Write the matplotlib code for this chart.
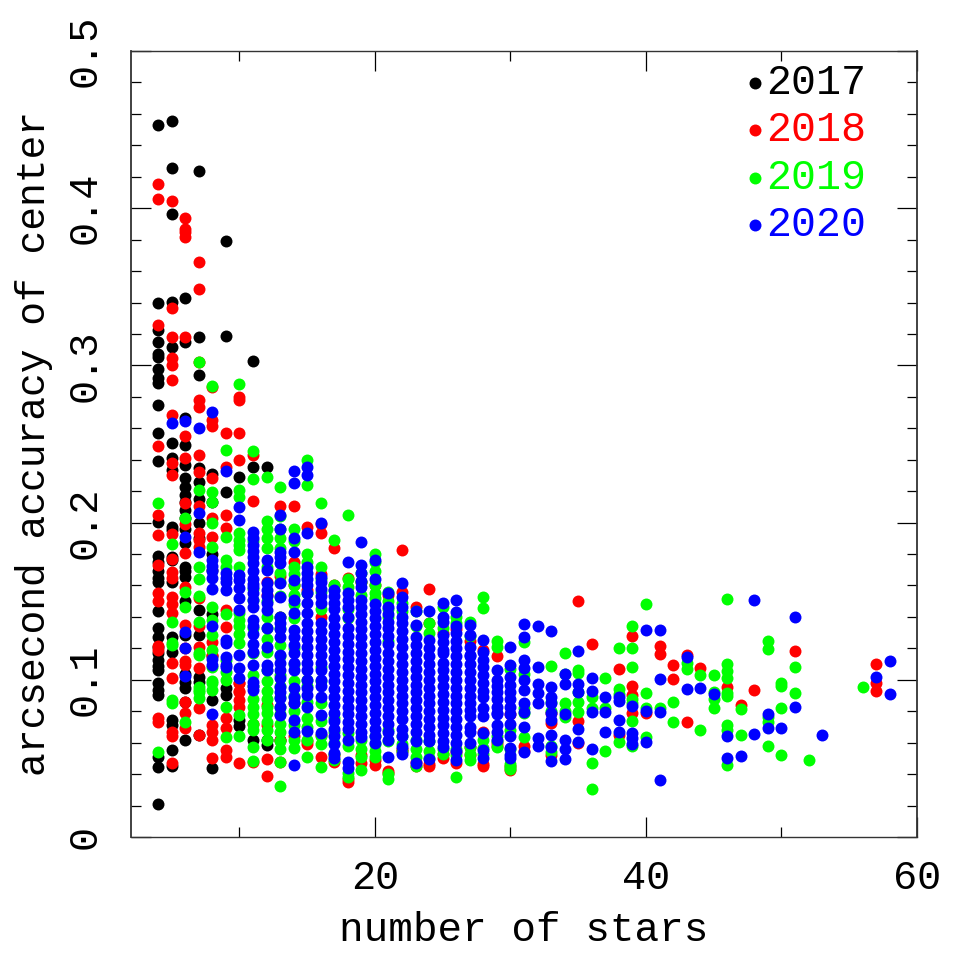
import matplotlib
matplotlib.use("Agg")
import matplotlib.pyplot as plt
from matplotlib.ticker import MultipleLocator

plt.rcParams['font.family'] = ['Liberation Mono']

years = ["2017", "2018", "2019", "2020"]
colors = ["#000000", "#ff0000", "#00ff00", "#0000ff"]

# values: number of stars -> accuracies in that column
stars_2017 = [4, 5, 6, 7, 8, 9, 10, 11, 12, 13]
acc_2017 = [
    [.453, .3395, .3225, .315, .3075, .3055, .2975, .292, .2886, .2748, .2572, .239, .2005, .1790, .1750, .1690, .1650, .1625, .1440,
     .1330, .1270, .1210, .1170, .1126, .1090, .1062, .0977, .0935, .0903, .0511, .0443, .0210],
    [.4557, .4256, .3963, .3405, .312, .2504, .2409, .2335, .1974, .1950, .1783, .1760, .1624, .1275, .1180, .0744, .0715, .0553, .0452],
    [.343, .315, .2663, .2494, .2366, .2282, .2229, .2176, .2130, .2080, .2030, .1960, .1870, .1720, .1690, .1656, .1500, .1285, .1040,
     .0988, .0950, .0861, .0617],
    [.4235, .3183, .2940, .2345, .2260, .2150, .1995, .1900, .1444, .1285, .1020, .0985, .0649],
    [.2310, .2130, .1800, .1700, .1420, .1150, .0871, .0437],
    [.379, .319, .2197, .0945, .0903],
    [.2292, .0744, .0705],
    [.303, .2352, .0620],
    [.2352, .0585, .0620],
    [.0617],
]

stars_2018 = [4, 5, 6, 7, 8, 9, 10, 11, 12, 13, 14, 15, 16, 17, 18, 19, 20, 21, 22, 23, 24, 25, 26, 27, 28, 29, 30, 31,
              33, 35, 36, 38, 39, 40, 41, 42, 43, 44, 46, 47, 48, 51, 57]
acc_2018 = [
    [.4153, .406, .3257, .2487, .2048, .1921, .173, .155, .1500, .119, .1215, .0755, .0730],
    [.4046, .3363, .3181, .305, .3003, .2908, .2684, .2377, .2300, .1927, .1770, .1688, .1650, .1529, .1480, .1423, .1105, .1010,
     .0670, .0640, .0469],
    [.3935, .3865, .3850, .3818, .3181, .2551, .2409, .2127, .1990, .1804, .1593, .1349, .1094, .1200, .1120, .0787, .0691, .0861],
    [.3660, .3484, .3021, .2780, .2737, .2430, .2324, .2106, .1932, .1890, .1847, .1520, .1345, .1211, .1073, .0818, .0649],
    [.2865, .2653, .2614, .2286, .2027, .1911, .1158, .1240, .0712, .0670, .0617, .0500],
    [.2568, .2355, .2048, .1964, .1444, .1338, .0755, .0553, .0510, .0691],
    [.2801, .278, .2568, .2398, .0978, .0930, .0872, .0977, .0920, .0829, .0473],
    [.2430, .214, .0720, .0479],
    [.1620, .1540, .0840, .0710, .0494, .0390],
    [.2106, .1660, .1400, .0615, .0480],
    [.2106, .1750, .1600, .0850, .0640],
    [.1974, .1570, .0590, .0610],
    [.1932, .1990, .1670, .1400, .0650, .0511],
    [.1841, .1600, .0520, .0480],
    [.1650, .0352, .0370],
    [.1620, .0470, .0520],
    [.1600, .0458, .0490],
    [.1540, .0405, .0420],
    [.1826, .1560, .0560, .0545],
    [.1460, .0452, .0480],
    [.1576, .1360, .0465, .0450],
    [.1295, .0500, .0530],
    [.1320, .0540, .0470],
    [.1250, .0520, .0570],
    [.1189, .0670, .0465, .0450],
    [.1150, .0579, .0600],
    [.0426, .0450, .0780],
    [.0549, .0580],
    [.0727, .0787, .0520],
    [.1501, .0738, .0596],
    [.1230],
    [.1066, .0649],
    [.1276, .0960, .0903, .0787],
    [.0787],
    [.1215, .1164],
    [.1094, .1003],
    [.1158, .0729],
    [.1073],
    [.0956],
    [.0840],
    [.0937],
    [.1185],
    [.1098, .0977, .0931],
]

stars_2019 = [4, 5, 6, 7, 8, 9, 10, 11, 12, 13, 14, 15, 16, 17, 18, 19, 20, 21, 22, 23, 24, 25, 26, 27, 28, 29, 30, 31,
              33, 34, 35, 36, 37, 38, 39, 40, 41, 42, 43, 44, 45, 46, 47, 49, 50, 51, 52, 56]
acc_2019 = [
    [.2123, .0543],
    [.1864, .1370, .1232, .0872, .1221, .0850],
    [.2027, .1561, .1465, .0734],
    [.3020, .2207, .1720, .1639, .1533, .1370, .1158, .0957, .0920, .1168, .0935, .0882],
    [.287, .2197, .2133, .1995, .1847, .1465, .1381, .1285, .1080, .0978, .1190, .0935, .0990],
    [.2462, .1911, .1762, .1720, .1417, .1126, .1000, .1050, .0829, .0638],
    [.288, .2207, .2165, .1932, .1890, .1860, .1826, .1720, .1423, .1380, .1340, .1290, .1232, .0776, .0642],
    [.2457, .2275, .1880, .1580, .1510, .1330, .1170, .1030, .0960, .0880, .0830, .0780, .0720, .068, .0570, .0486],
    [.2292, .2010, .1960, .1900, .1840, .1720, .1500, .1400, .1330, .1260, .1180, .1060, .0990, .0930, .0880, .0830, .0790,
     .0730, .0680, .0620],
    [.2229, .2040, .1960, .1900, .1840, .1680, .1620, .1530, .1400, .1330, .1220, .1150, .1030, .0960, .0890, .0830, .0780,
     .0720, .0670, .0610, .0560, .0479, .0324],
    [.1960, .1880, .1720, .1670, .1600, .1540, .1480, .1390, .1200, .1100, .0990, .0900, .0800, .0710, .0620, .0564],
    [.2398, .2239, .1800, .1750, .1550, .1000, .0960, .0860, .0760, .0700, .0620, .0511],
    [.2127, .1720, .1640, .1560, .1450, .1080, .0990, .0850, .0740, .0640, .0590, .0443],
    [.1889, .1600, .1570, .0760, .0670, .0600, .0530, .0490],
    [.2048, .1640, .1590, .1450, .1390, .0660, .0580, .0384, .0410],
    [.1680, .1620, .1540, .0620, .0560, .0510, .0426],
    [.1800, .1750, .1690, .1600, .1550, .1520, .0640, .0590, .0511, .0550],
    [.1560, .1500, .1450, .1400, .1250, .0680, .0610, .0369, .0400],
    [.1490, .1440, .0640, .0590, .0550],
    [.1440, .1340, .0620, .0560, .0510, .0452],
    [.1300, .1360, .0610, .0550, .0500],
    [.1330, .1460, .0560, .0530],
    [.1363, .1400, .0560, .0380, .0520],
    [.1370, .1280, .0575, .0490, .0530],
    [.1529, .1454, .0564, .0530, .0620],
    [.1249, .1210, .0610, .0640, .0570],
    [.1070, .0680, .0447, .0465, .0430, .0560],
    [.1242, .1040, .0820, .0790, .0638],
    [.1088, .0860, .0800, .0543, .0580],
    [.1170, .1040, .0850, .0765, .0800],
    [.1062, .1041, .0920, .0860, .0797],
    [.0818, .0473, .0303, .0890],
    [.1013, .0823, .0547],
    [.1202, .0939, .0910, .0602],
    [.1342, .1204, .1081, .0880, .0850, .0738, .0581],
    [.1480, .0916, .0823, .0638],
    [.0818],
    [.0857, .0729],
    [.1105, .1066],
    [.1033, .0681],
    [.1033, .0924, .0880, .0818],
    [.1516, .1100, .1058, .1009, .0914, .0900, .0712, .0681, .0458],
    [.0814, .0649],
    [.1249, .1198, .0765, .0734, .0579],
    [.0977, .0960, .0823, .0522],
    [.1083, .0914],
    [.0490],
    [.0956],
]

stars_2020 = [5, 6, 7, 8, 9, 10, 11, 12, 13, 14, 15, 16, 17, 18, 19, 20, 21, 22, 23, 24, 25, 26, 27, 28, 29, 30, 31, 32,
              33, 34, 35, 36, 37, 38, 39, 40, 41, 43, 44, 45, 46, 47, 48, 49, 50, 51, 53, 57, 58]
acc_2020 = [
    [.2631],
    [.2648, .1906, .1306, .1200, .1025],
    [.26, .2059, .1811],
    [.2706, .1760, .1725, .1690, .1650, .1575, .1345, .1130, .1095, .0785],
    [.2330, .1680, .1650, .1620, .1570, .1253, .1232, .1147, .1095, .1083],
    [.2101, .2017, .1667, .1635, .1582, .1518, .1444, .1158, .1073, .1010],
    [.1942, .1900, .1860, .1820, .1780, .1740, .1690, .1640, .1610, .1593, .1550, .1510, .1465, .1380, .1340, .1290, .1230,
     .1179, .1095, .0988, .0960, .0935],
    [.1762, .1699, .1614, .1570, .1530, .1490, .1444, .1328, .1211, .1095, .1062],
    [.2048, .1960, .1815, .1780, .1740, .1614, .1529, .1402, .1360, .1320, .1274, .1158, .1110, .1063, .1010, .0957,
     .0924, .0882, .0829, .0776],
    [.233, .225, .19, .1811, .1635, .1508, .1423, .1317, .1270, .1220, .1170, .1110, .1063, .0946, .0893, .0850, .0744,
     .0670, .0458],
    [.2352, .2303, .1932, .1720, .1680, .1640, .1600, .1550, .1487, .1423, .1359, .1310, .1260, .1210, .1160, .1110, .1060,
     .1000, .0950, .0903, .0829, .0676],
    [.1995, .1656, .1620, .1575, .1530, .1487, .1360, .1310, .1260, .1210, .1160, .1110, .1060, .1000, .0960, .0893, .0776, .0659],
    [.1571, .1530, .1490, .1450, .1390, .1340, .1290, .1240, .1190, .1140, .1090, .1040, .0990, .0940, .0890, .0840,
     .0790, .0740, .0690, .0640, .0590, .0532, .0500],
    [.1752, .1550, .1510, .1465, .1402, .1330, .1280, .1230, .1180, .1130, .1080, .1030, .0980, .0930, .0880, .0830,
     .0780, .0730, .0690, .0617, .0479, .0437],
    [.1875, .1730, .1680, .1630, .1590, .1510, .1465, .1420, .1370, .1320, .1270, .1220, .1170, .1120, .1070, .1020,
     .0970, .0920, .0870, .0820, .0770, .0720, .0670, .0638],
    [.1762, .1640, .1480, .1440, .1390, .1340, .1290, .1240, .1190, .1140, .1090, .1040, .0990, .0940, .0890, .0840,
     .0790, .0740, .0690, .0640, .0596],
    [.1550, .1465, .1420, .1370, .1330, .1280, .1230, .1170, .1120, .1070, .1020, .0970, .0920, .0870, .0820, .0770, .0720, .0670,
     .0617, .0507],
    [.1618, .1529, .1465, .1402, .1360, .1310, .1260, .1210, .1150, .1100, .1050, .1000, .0950, .0900, .0850, .0800,
     .0750, .0690, .0640, .0575, .0528],
    [.1438, .1349, .1270, .1220, .1170, .1120, .1070, .1020, .0970, .0920, .0870, .0820, .0770, .0720, .0670, .0610, .0473],
    [.144, .1254, .1200, .1150, .1100, .1050, .1000, .0950, .0900, .0850, .0800, .0750, .0700, .0650, .0610, .0494],
    [.1487, .1401, .1370, .1285, .1240, .1189, .1168, .1110, .1060, .1010, .0960, .0910, .0860, .0810, .0760, .0710,
     .0660, .0610, .0575],
    [.1510, .1433, .1340, .1300, .1250, .1200, .1150, .1100, .1050, .1000, .0950, .0900, .0850, .0800, .0750, .0700,
     .0650, .0600, .0545, .0490],
    [.1348, .1285, .1210, .1160, .1150, .1100, .1050, .1000, .0950, .0900, .0850, .0810, .0770, .0700, .0670, .0596],
    [.1253, .1180, .1125, .1080, .1030, .0980, .0930, .0890, .0820, .0770, .0554, .0500, .0660],
    [.1062, .1000, .0960, .0920, .0880, .0830, .0790, .0780, .0710, .0670, .0617],
    [.1206, .1094, .1020, .0970, .0920, .0880, .0830, .0780, .0720, .0640, .0565, .0520, .0500],
    [.1355, .1274, .1126, .1073, .1000, .0935, .0850, .0797, .0702, .0540],
    [.1342, .1079, .0973, .0914, .0850, .0630, .0580],
    [.1312, .0956, .0893, .0850, .0787, .0744, .0649, .0575, .0483],
    [.1037, .0973, .0782, .0617, .0560, .0494],
    [.1183, .0973, .0924, .0687, .0606],
    [.1009, .0929, .0793, .0560],
    [.0893, .0793, .0666],
    [.0893, .0867, .0744, .0666],
    [.0833, .0660, .0628, .0592],
    [.1314, .0804, .0606],
    [.1314, .1005, .0797, .0363],
    [.1147, .0941],
    [.0950],
    [.0907],
    [.0645, .0503],
    [.0517],
    [.1507, .0657],
    [.0782, .0691],
    [.0691],
    [.1397, .0827],
    [.0647],
    [.1018],
    [.1119, .0910],
]

all_stars = [stars_2017, stars_2018, stars_2019, stars_2020]
all_acc = [acc_2017, acc_2018, acc_2019, acc_2020]

fig = plt.figure(figsize=(9.62, 9.68), dpi=100)
ax = fig.add_axes([131/962, 1-837/968, 786/962, 786/968])

handles = []
for year, color, stars, acc in zip(years, colors, all_stars, all_acc):
    xs, ys = [], []
    for n, col in zip(stars, acc):
        xs += [n] * len(col)
        ys += col
    handles.append(ax.scatter(xs, ys, s=74, color=color, linewidths=0, label=year))

ax.set_xlim(2, 60)
ax.set_ylim(0, 0.5)
ax.xaxis.set_major_locator(MultipleLocator(20))
ax.xaxis.set_minor_locator(MultipleLocator(10))
ax.yaxis.set_major_locator(MultipleLocator(0.1))
ax.yaxis.set_minor_locator(MultipleLocator(0.02))
ax.set_yticks([0, .1, .2, .3, .4, .5])
ax.set_yticklabels(["0", "0.1", "0.2", "0.3", "0.4", "0.5"], rotation=90, va="center", fontsize=29)
ax.tick_params(which="major", direction="in", top=True, right=True, length=14.4, width=0.9, labelsize=29, pad=16)
ax.tick_params(which="minor", direction="in", top=True, right=True, length=7.2, width=0.9)
ax.tick_params(axis="y", which="major", pad=20)

for side in ["left", "right"]:
    ax.spines[side].set_linewidth(1.3)
    ax.spines[side].set_color("#333333")
for side in ["top", "bottom"]:
    ax.spines[side].set_linewidth(1.0)
    ax.spines[side].set_color("#333333")

ax.set_xlabel("number of stars", fontsize=29.5, labelpad=10)
ax.set_ylabel("arcsecond accuracy of center", fontsize=28.5, labelpad=9)

ax.legend(handles=handles, loc="upper right", bbox_to_anchor=(0.935, 0.985), frameon=False, fontsize=30,
          labelcolor=colors, handletextpad=-0.74, labelspacing=0.18, borderaxespad=0, borderpad=0, markerscale=1.0)

fig.savefig("out.png", dpi=100)
